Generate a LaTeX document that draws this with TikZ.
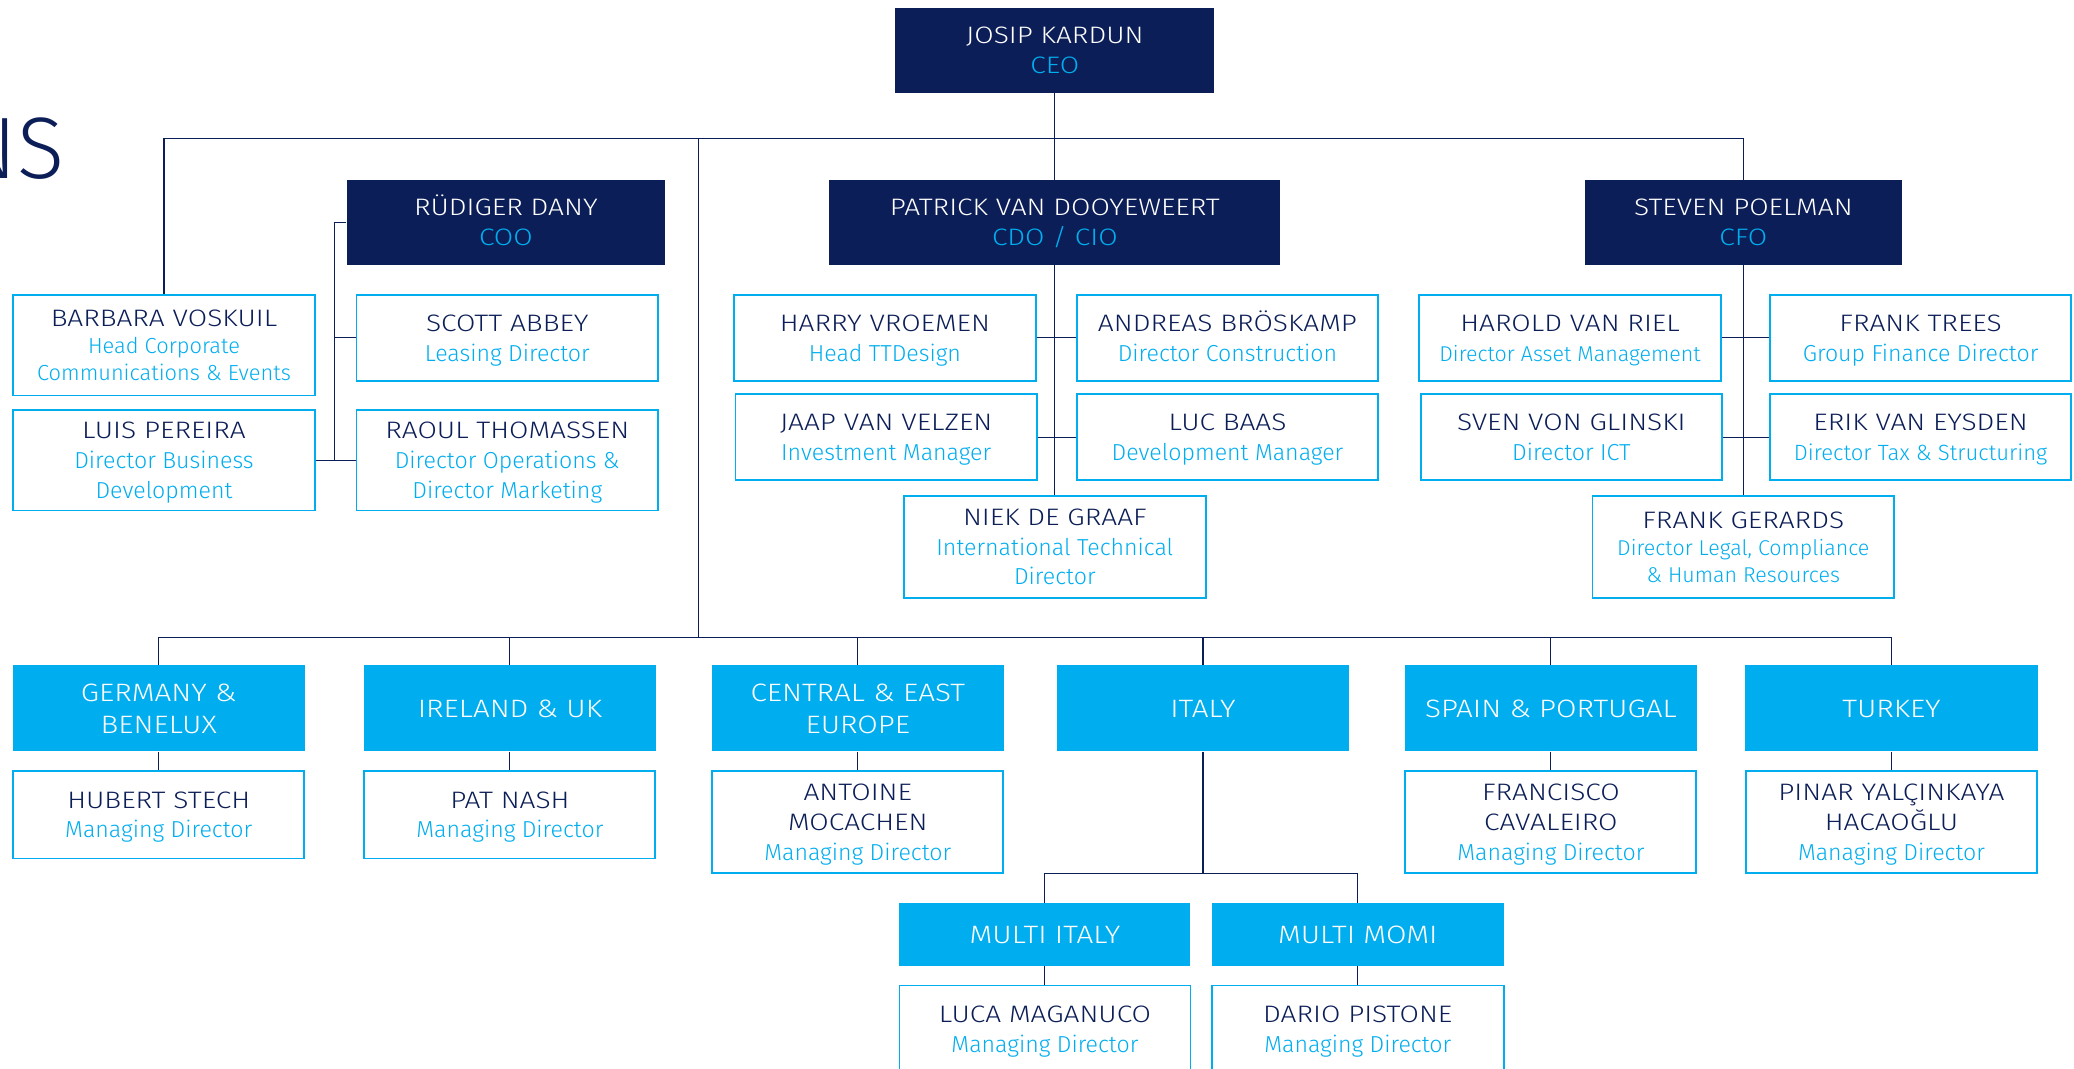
\documentclass[tikz,border=0pt]{standalone}
\usepackage{fontspec}
\setmainfont{Fira Sans Light}
\newfontfamily\capsfamily{Fira Sans Light}[FakeStretch=1.18]
\usetikzlibrary{calc}

\definecolor{navy}{HTML}{0C1E57}
\definecolor{skyblue}{HTML}{00AEEF}

\newcommand{\namefont}{\capsfamily\fontsize{18}{22.5}\selectfont}
\newcommand{\regionfont}{\capsfamily\fontsize{19}{24}\selectfont}
\newcommand{\headrole}[1]{\textcolor{skyblue}{#1}}
\newcommand{\roletxt}[1]{{\rmfamily\fontsize{17.5}{22.5}\selectfont\color{skyblue}#1}}
\newcommand{\smallrole}[1]{{\rmfamily\fontsize{16.2}{19.5}\selectfont\color{skyblue}#1}}
%% struts so that the lines sit in the boxes as in the slide
\newcommand{\upstrut}[1][17.5pt]{\rule{0pt}{#1}}
\newcommand{\downstrut}{\rule[-5pt]{0pt}{5pt}}

\tikzset{
    headbox/.style={fill=navy, text=white, inner sep=0pt, align=center,
        minimum width=241pt, minimum height=64pt, font=\namefont},
    staffbox/.style={draw=skyblue, line width=1.4pt, fill=white, text=navy, inner sep=0pt,
        align=center, minimum width=228pt, minimum height=65pt, font=\namefont},
    regionbox/.style={fill=skyblue, text=white, inner sep=0pt, align=center,
        minimum width=221pt, minimum height=65pt, font=\regionfont},
    wire/.style={draw=navy, line width=0.8pt},
}

\begin{document}
\begin{tikzpicture}[x=1pt, y=-1pt]

%%Parameters
%% row heights, can be modified
\def\headY{168}
\def\rowA{255.5}
\def\rowB{330.5}
\def\regionY{535.5}

    \useasboundingbox (0,0) rectangle (1568,808);
    \fill[white] (0,0) rectangle (1568,808);
    \clip (0,0) rectangle (1568,808);

    %% cut title on the left
    \node[anchor=base east, inner sep=0pt, text=navy, font=\fontsize{66}{66}\selectfont] (title) at (49,135) {NS};


    %% ***Board***
    \node[headbox] (ceo) at (797.5, 38) {\upstrut JOSIP KARDUN\\\headrole{CEO}\downstrut};
    \node[headbox] (coo) at (382.5, \headY) {\upstrut RÜDIGER DANY\\\headrole{COO}\downstrut};
    \node[headbox, minimum width=341pt] (cdo) at (797.5, \headY) {\upstrut PATRICK VAN DOOYEWEERT\\\headrole{CDO / CIO}\downstrut};
    \node[headbox, minimum width=240pt] (cfo) at (1318, \headY) {\upstrut STEVEN POELMAN\\\headrole{CFO}\downstrut};


    %% ***Staff of the CEO and the COO***
    \node[staffbox, minimum height=76pt] (barbara) at (124, 261) {\upstrut BARBARA VOSKUIL\\[-2pt]{\rmfamily\fontsize{16.5}{20}\selectfont\color{skyblue}Head Corporate}\\[-2pt]{\rmfamily\fontsize{16.5}{20}\selectfont\color{skyblue}Communications \& Events}\downstrut};
    \node[staffbox, minimum height=76pt] (luis) at (124, 348) {\upstrut LUIS PEREIRA\\\roletxt{Director Business}\\\roletxt{Development}\downstrut};
    \node[staffbox] (scott) at (383.5, \rowA) {\upstrut SCOTT ABBEY\\\roletxt{Leasing Director}\downstrut};
    \node[staffbox, minimum height=76pt] (raoul) at (383.5, 348) {\upstrut RAOUL THOMASSEN\\\roletxt{Director Operations \&}\\\roletxt{Director Marketing}\downstrut};

        \draw[wire] (coo.west) -- ++(-9,0) coordinate (cooline) |- (raoul.west);
        \draw[wire] (cooline |- scott.west) -- (scott.west);
        \draw[wire] (luis.east) -- (luis.east -| cooline);


    %% ***Staff of the CDO / CIO***
    \node[staffbox] (harry) at (669, \rowA) {\upstrut HARRY VROEMEN\\\roletxt{Head TTDesign}\downstrut};
    \node[staffbox] (andreas) at (928, \rowA) {\upstrut ANDREAS BRÖSKAMP\\\roletxt{Director Construction}\downstrut};
    \node[staffbox] (jaap) at (670, \rowB) {\upstrut JAAP VAN VELZEN\\\roletxt{Investment Manager}\downstrut};
    \node[staffbox] (luc) at (928, \rowB) {\upstrut LUC BAAS\\\roletxt{Development Manager}\downstrut};
    \node[staffbox, minimum height=77pt] (niek) at (797.5, 413.5) {\upstrut NIEK DE GRAAF\\\roletxt{International Technical}\\\roletxt{Director}\downstrut};

        \draw[wire] (cdo.south) -- (niek.north);
        \draw[wire] (harry.east) -- (andreas.west);
        \draw[wire] (jaap.east) -- (luc.west);


    %% ***Staff of the CFO***
    \node[staffbox] (harold) at (1187, \rowA) {\upstrut HAROLD VAN RIEL\\\smallrole{Director Asset Management}\downstrut};
    \node[staffbox] (franktrees) at (1452, \rowA) {\upstrut FRANK TREES\\\roletxt{Group Finance Director}\downstrut};
    \node[staffbox] (sven) at (1188, \rowB) {\upstrut SVEN VON GLINSKI\\\roletxt{Director ICT}\downstrut};
    \node[staffbox] (erik) at (1452, \rowB) {\upstrut ERIK VAN EYSDEN\\{\rmfamily\fontsize{16.7}{20}\selectfont\color{skyblue}Director Tax \& Structuring}\downstrut};
    \node[staffbox, minimum height=77pt] (frankgerards) at (1318, 413.5) {\upstrut FRANK GERARDS\\[-2pt]\smallrole{Director Legal, Compliance}\\[-2pt]\smallrole{\& Human Resources}\downstrut};

        \draw[wire] (cfo.south) -- (frankgerards.north);
        \draw[wire] (harold.east) -- (franktrees.west);
        \draw[wire] (sven.east) -- (erik.west);


    %% ***Top bus from the CEO***
    \coordinate (topbus) at (797.5, 105);
    \coordinate (trunk) at (528, 105);
    \coordinate (regbus) at (528, 482);

        \draw[wire] (ceo.south) -- (cdo.north);
        \draw[wire] (barbara.north) -- (barbara.north |- topbus) -- (cfo.north |- topbus) -- (cfo.north);
        \draw[wire] (trunk) -- (regbus);


    %% ***Regions***
    \node[regionbox] (ger) at (120, \regionY) {\upstrut[19pt]GERMANY \&\\BENELUX\downstrut};
    \node[regionbox] (irl) at (385.5, \regionY) {\upstrut[19pt]IRELAND \& UK\downstrut};
    \node[regionbox] (cee) at (648.5, \regionY) {\upstrut[19pt]CENTRAL \& EAST\\EUROPE\downstrut};
    \node[regionbox] (ita) at (909.5, \regionY) {\upstrut[19pt]ITALY\downstrut};
    \node[regionbox] (spa) at (1172.5, \regionY) {\upstrut[19pt]SPAIN \& PORTUGAL\downstrut};
    \node[regionbox] (tur) at (1430, \regionY) {\upstrut[19pt]TURKEY\downstrut};

        \draw[wire] (ger.north) -- (ger.north |- regbus) -- (tur.north |- regbus) -- (tur.north);
        \foreach \reg in {irl, cee, ita, spa}
            \draw[wire] (\reg.north) -- (\reg.north |- regbus);


    %% ***Managing directors***
    \node[staffbox, minimum width=220pt, minimum height=66pt] (hubert) at (120, 616) {\upstrut HUBERT STECH\\\roletxt{Managing Director}\downstrut};
    \node[staffbox, minimum width=220pt, minimum height=66pt] (pat) at (385.5, 616) {\upstrut PAT NASH\\\roletxt{Managing Director}\downstrut};
    \node[staffbox, minimum width=220pt, minimum height=77pt] (antoine) at (648.5, 621.5) {\upstrut ANTOINE\\MOCACHEN\\\roletxt{Managing Director}\downstrut};
    \node[staffbox, minimum width=220pt, minimum height=77pt] (francisco) at (1172.5, 621.5) {\upstrut FRANCISCO\\CAVALEIRO\\\roletxt{Managing Director}\downstrut};
    \node[staffbox, minimum width=220pt, minimum height=77pt] (pinar) at (1430, 621.5) {\upstrut PINAR YALÇINKAYA\\HACAOĞLU\\\roletxt{Managing Director}\downstrut};

        \foreach \reg/\boss in {ger/hubert, irl/pat, cee/antoine, spa/francisco, tur/pinar}
            \draw[wire] (\reg.south) -- (\reg.south |- \boss.north);


    %% ***Italy split***
    \node[regionbox, minimum width=220pt, minimum height=47pt] (mitaly) at (790, 706.5) {\upstrut[19pt]MULTI ITALY\downstrut};
    \node[regionbox, minimum height=47pt] (mmomi) at (1026.5, 706.5) {\upstrut[19pt]MULTI MOMI\downstrut};
    \node[staffbox, minimum width=220pt, minimum height=66pt] (luca) at (790, 778) {\upstrut LUCA MAGANUCO\\\roletxt{Managing Director}\downstrut};
    \node[staffbox, minimum width=221pt, minimum height=66pt] (dario) at (1026.5, 778) {\upstrut DARIO PISTONE\\\roletxt{Managing Director}\downstrut};

        \draw[wire] (ita.south) -- ++(0,92) coordinate (itabus);
        \draw[wire] (mitaly.north) |- (itabus) -| (mmomi.north);
        \draw[wire] (mitaly.south) -- (luca.north);
        \draw[wire] (mmomi.south) -- (dario.north);

\end{tikzpicture}
\end{document}
